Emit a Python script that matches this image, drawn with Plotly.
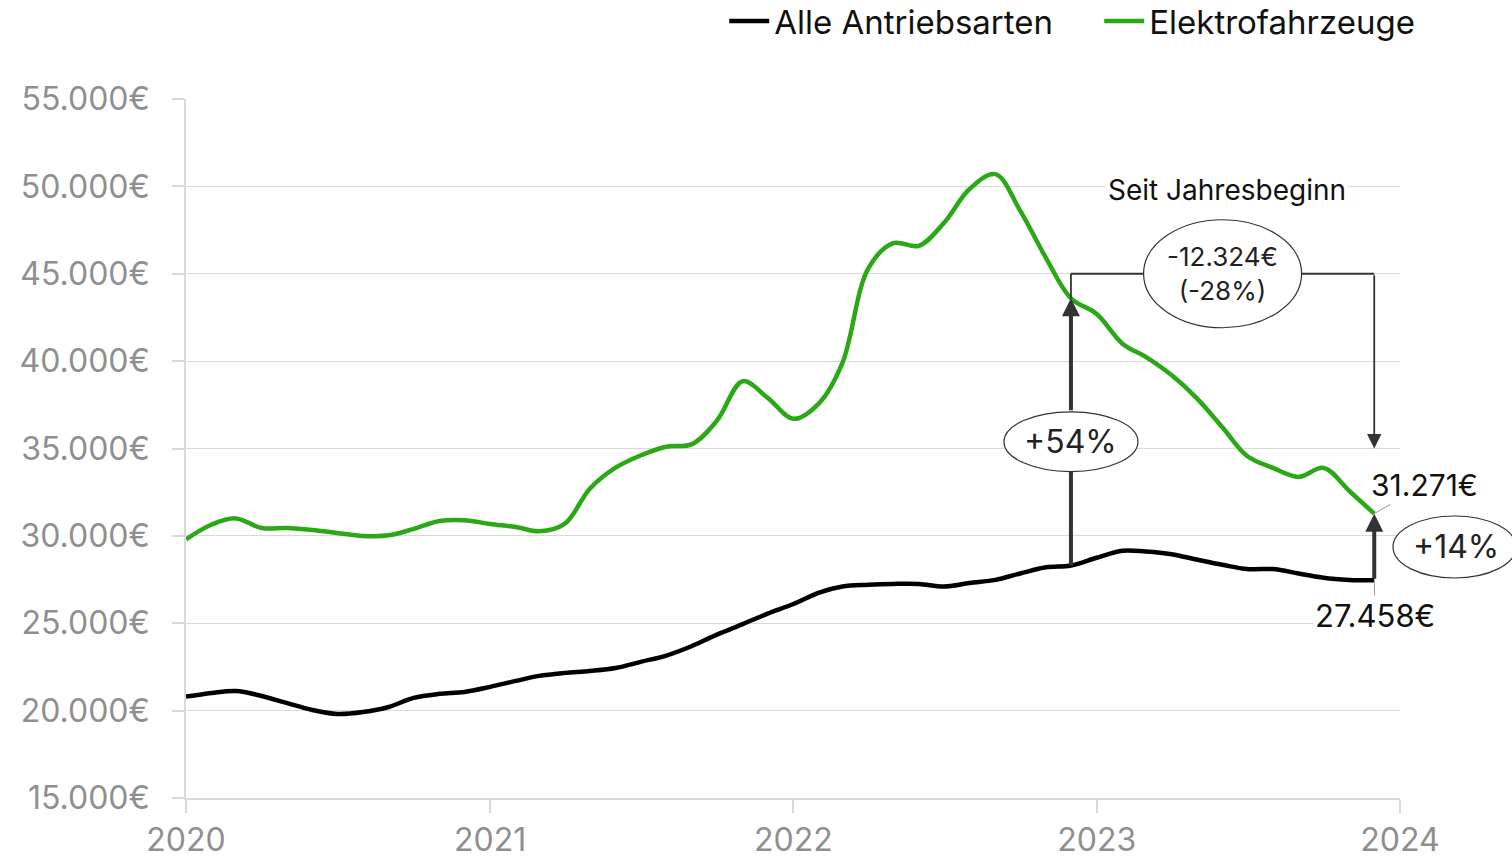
import plotly.graph_objects as go
import pandas as pd

# ---------------- data ----------------
months = pd.date_range("2020-01-01", "2023-12-01", freq="MS").strftime("%Y-%m-%d").tolist()

series_names = ["Alle Antriebsarten", "Elektrofahrzeuge"]

alle = [20800, 21010, 21120, 20840, 20440, 20040, 19810, 19920, 20210, 20730, 20960, 21070,
        21360, 21700, 21990, 22160, 22270, 22440, 22790, 23150, 23700, 24350, 24950, 25550,
        26100, 26750, 27100, 27200, 27250, 27250, 27100, 27300, 27480, 27850, 28200, 28308,
        28750, 29150, 29100, 28950, 28650, 28350, 28100, 28100, 27850, 27600, 27480, 27458]

elektro = [29800, 30650, 31000, 30450, 30450, 30340, 30170, 30000, 30030, 30400, 30850, 30900,
           30680, 30510, 30260, 30700, 32700, 33900, 34600, 35100, 35250, 36600, 38850, 37900,
           36700, 37600, 39900, 45300, 46750, 46600, 47900, 49850, 50700, 48600, 45900, 43595,
           42700, 41000, 40240, 39200, 37900, 36230, 34570, 33890, 33370, 33890, 32570, 31271]

y_tickvals = [15000, 20000, 25000, 30000, 35000, 40000, 45000, 50000, 55000]
y_ticktext = ["15.000€", "20.000€", "25.000€", "30.000€", "35.000€",
              "40.000€", "45.000€", "50.000€", "55.000€"]
x_tickvals = ["2020-01-01", "2021-01-01", "2022-01-01", "2023-01-01", "2024-01-01"]
x_ticktext = ["2020", "2021", "2022", "2023", "2024"]

annot_title = "Seit Jahresbeginn"

# ---------------- styles ----------------
FONT = "Inter, Lato, sans-serif"
GREEN = "#2aa815"
BLACK = "#000000"
DARK = "#333333"
GRID = "#d9d9d9"
TICKGRAY = "#8f8f8f"

def eur(v):
    return f"{v:,}".replace(",", ".") + "€"

i0, i1 = 35, len(months) - 1  # Dec 2022, Dec 2023
x_start, x_end = months[i0], months[i1]
x_mid = (pd.Timestamp(x_start) + (pd.Timestamp(x_end) - pd.Timestamp(x_start)) / 2).strftime("%Y-%m-%d %H:%M")

diff = elektro[i1] - elektro[i0]
diff_pct = round(100 * diff / elektro[i0])
gap_start = round(100 * (elektro[i0] / alle[i0] - 1))
gap_end = round(100 * (elektro[i1] / alle[i1] - 1))
bracket_y = 45000
bracket_tip = 35000
oval54_y = (33680, 37100)
oval14_y = (alle[i1] + elektro[i1]) / 2

fig = go.Figure()
fig.add_trace(go.Scatter(x=months, y=alle, name=series_names[0], mode="lines",
                         line=dict(color=BLACK, width=4.5, shape="spline", smoothing=1.0)))
fig.add_trace(go.Scatter(x=months, y=elektro, name=series_names[1], mode="lines",
                         line=dict(color=GREEN, width=4.5, shape="spline", smoothing=1.0)))

shapes = [
    dict(type="line", xref="x", yref="y", x0=x_start, x1=x_start, y0=alle[i0], y1=oval54_y[1],
         line=dict(color=DARK, width=4), layer="above"),
    dict(type="line", xref="x", yref="y", x0=x_start, x1=x_start, y0=elektro[i0], y1=bracket_y,
         line=dict(color=DARK, width=1.8), layer="above"),
    dict(type="line", xref="x", yref="y", x0=x_start, x1=x_end, y0=bracket_y, y1=bracket_y,
         line=dict(color=DARK, width=1.8), layer="above"),
    dict(type="circle", xref="x", yref="y", xsizemode="pixel", xanchor=x_start, x0=-67, x1=67,
         y0=oval54_y[0], y1=oval54_y[1], fillcolor="white", line=dict(color=DARK, width=1.2), layer="above"),
    dict(type="circle", xref="x", yref="y", xsizemode="pixel", xanchor=x_mid, x0=-79, x1=79,
         ysizemode="pixel", yanchor=bracket_y, y0=-54, y1=54,
         fillcolor="white", line=dict(color=DARK, width=1.2), layer="above"),
    dict(type="circle", xref="paper", yref="y", xsizemode="pixel", xanchor=1, x0=-7, x1=116,
         ysizemode="pixel", yanchor=oval14_y, y0=-31, y1=31,
         fillcolor="white", line=dict(color=DARK, width=1.2), layer="above"),
]

annotations = [
    dict(x=x_mid, y=bracket_y, xref="x", yref="y", yshift=84, xshift=4, text=annot_title, showarrow=False,
         font=dict(size=28, color="#111"), bgcolor="white"),
    dict(x=x_mid, y=bracket_y, xref="x", yref="y", text=f"{eur(diff)}<br>({diff_pct}%)",
         showarrow=False, font=dict(size=26, color="#222")),
    dict(x=x_start, y=sum(oval54_y) / 2, xref="x", yref="y", text=f"+{gap_start}%", showarrow=False,
         font=dict(size=32, color="#222")),
    dict(x=1, xshift=56, xanchor="center", y=oval14_y, xref="paper", yref="y", text=f"+{gap_end}%",
         showarrow=False, font=dict(size=32, color="#222")),
    dict(x=x_end, y=elektro[i1], xref="x", yref="y", text=eur(elektro[i1]), showarrow=True,
         arrowhead=0, arrowwidth=1, arrowcolor="#999", ax=50, ay=-29,
         font=dict(size=30, color="#111")),
    dict(x=x_end, y=alle[i1], xref="x", yref="y", text=eur(alle[i1]), showarrow=True,
         arrowhead=0, arrowwidth=1, arrowcolor="#999", ax=1, ay=35, bgcolor="white",
         font=dict(size=31, color="#111")),
    dict(x=x_start, y=elektro[i0], ax=x_start, ay=oval54_y[1], xref="x", yref="y", axref="x", ayref="y",
         text="", showarrow=True, arrowhead=2, arrowsize=0.9, arrowwidth=4, arrowcolor=DARK),
    dict(x=x_end, y=elektro[i1], ax=x_end, ay=alle[i1], xref="x", yref="y", axref="x", ayref="y",
         text="", showarrow=True, arrowhead=2, arrowsize=0.9, arrowwidth=4, arrowcolor=DARK),
    dict(x=x_end, y=bracket_tip, ax=x_end, ay=bracket_y, xref="x", yref="y", axref="x", ayref="y",
         text="", showarrow=True, arrowhead=2, arrowsize=1.6, arrowwidth=1.8, arrowcolor=DARK),
]

fig.update_layout(
    width=1512, height=863,
    margin=dict(l=186, r=112, t=99, b=65, autoexpand=False),
    paper_bgcolor="white", plot_bgcolor="white",
    font=dict(family=FONT, color="#111"),
    showlegend=True,
    legend=dict(orientation="h", xref="container", yref="paper", x=0.975, xanchor="right",
                y=1.1116, yanchor="middle", font=dict(size=33, color="#111"), bgcolor="rgba(0,0,0,0)",
                itemwidth=40, entrywidthmode="pixels", entrywidth=320),
    shapes=shapes,
    annotations=annotations,
    xaxis=dict(type="date", range=["2020-01-01", "2024-01-01"], tickvals=x_tickvals, ticktext=x_ticktext,
               showgrid=False, zeroline=False, showline=True, linecolor=GRID, linewidth=1.5,
               ticks="outside", ticklen=13, tickcolor=GRID, tickwidth=1.5, automargin=False,
               ticklabelstandoff=0, tickfont=dict(size=32, color=TICKGRAY)),
    yaxis=dict(range=[15000, 55000], tickvals=y_tickvals, ticktext=y_ticktext,
               showgrid=True, gridcolor=GRID, gridwidth=1.2, zeroline=False,
               showline=True, linecolor=GRID, linewidth=1.5, automargin=False,
               ticks="outside", ticklen=12, tickcolor=GRID, tickwidth=1.5,
               ticklabelstandoff=16, tickfont=dict(size=32, color=TICKGRAY)),
)

fig.write_html("out.html", config={"displayModeBar": False},
               post_script="document.body.style.margin='0';")
